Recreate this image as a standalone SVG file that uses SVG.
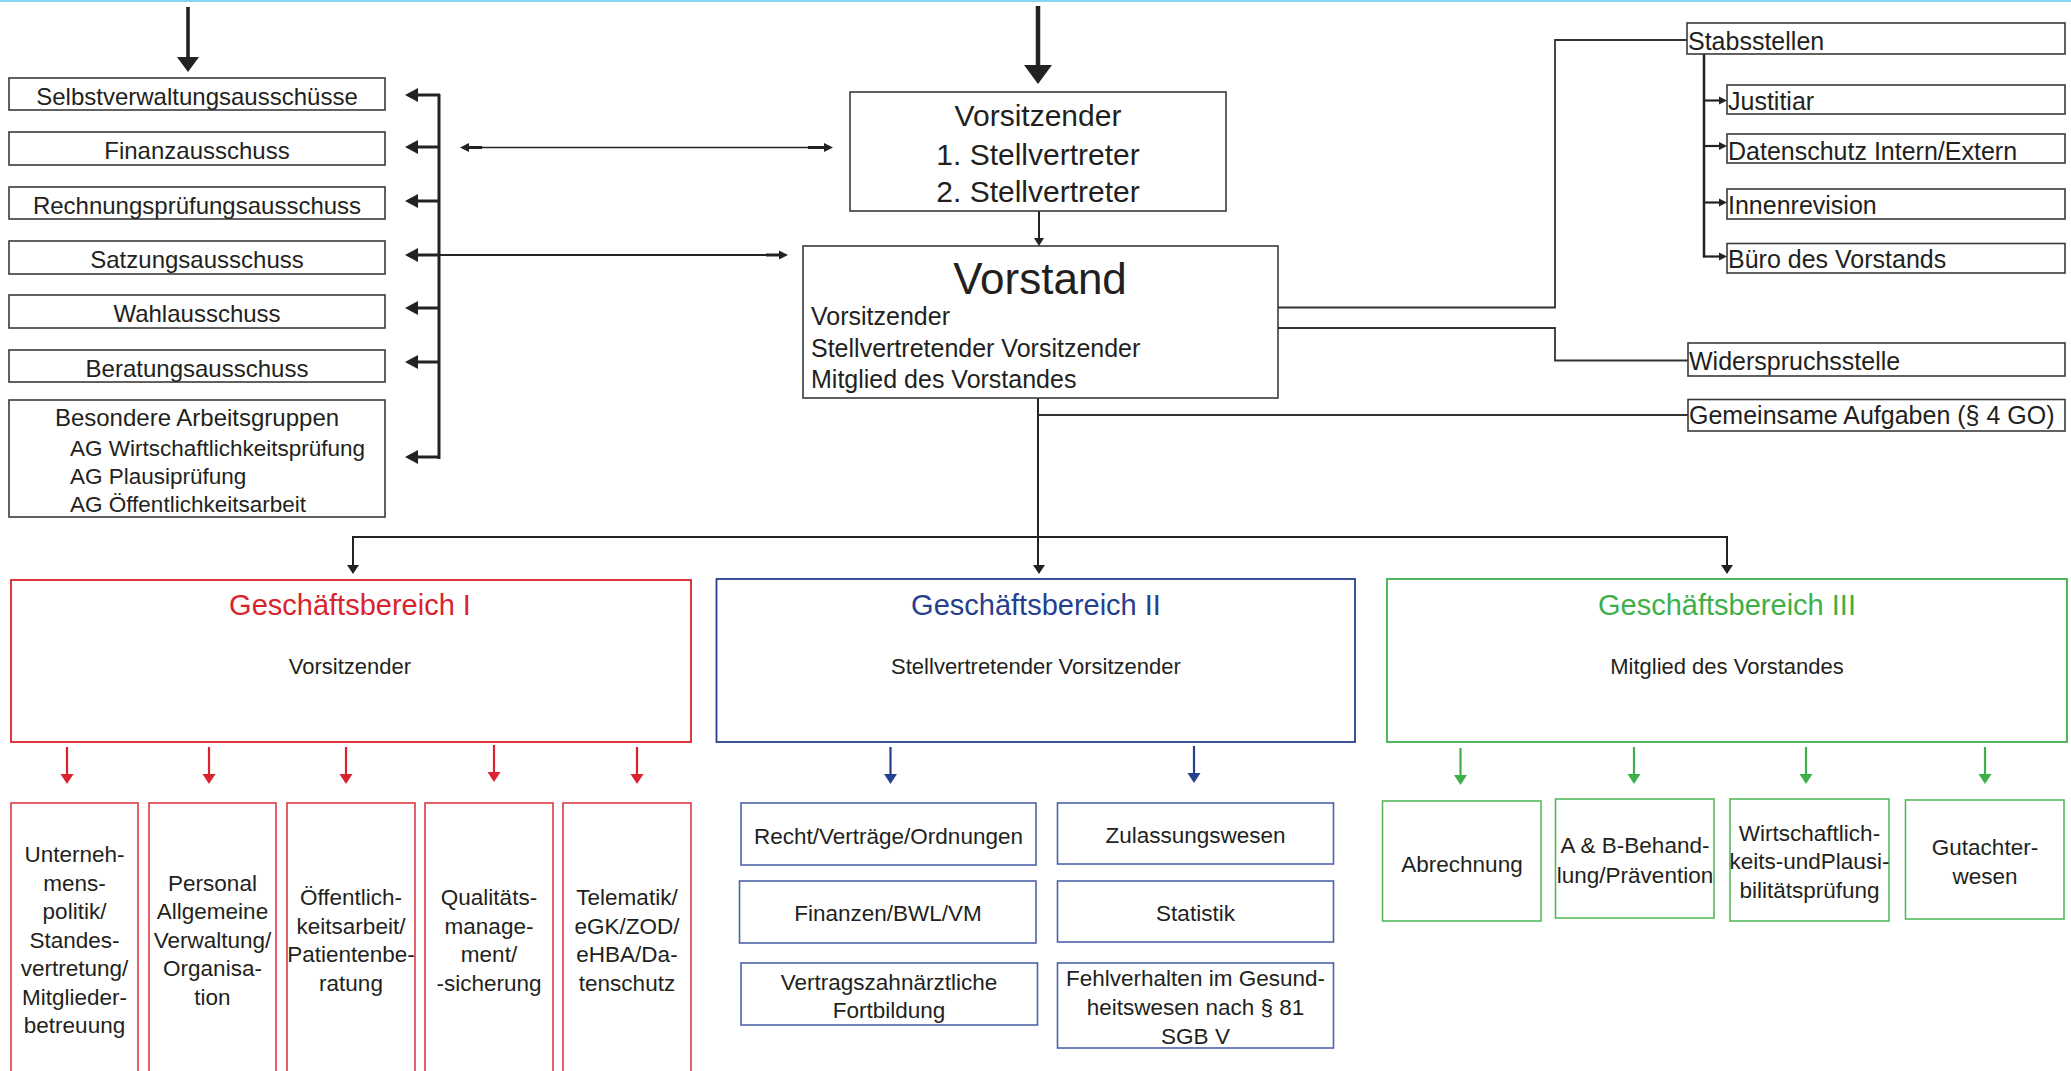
<svg xmlns="http://www.w3.org/2000/svg" width="2071" height="1071" viewBox="0 0 2071 1071">
<style>
text{font-family:"Liberation Sans",Arial,sans-serif;fill:#231f20}
.c{text-anchor:middle}
.box{fill:#fff;stroke:#3a3a3a;stroke-width:1.6}
.t24{font-size:24px}
.t25{font-size:25px}
.t22{font-size:22.5px}
.red{fill:#fff;stroke:#d9232e;stroke-width:1.8}
.blue{fill:#fff;stroke:#24408e;stroke-width:1.8}
.green{fill:#fff;stroke:#3db049;stroke-width:1.8}
.reds{fill:#fff;stroke:#dd3a43;stroke-width:1.6}
.blues{fill:#fff;stroke:#4e62a8;stroke-width:1.6}
.greens{fill:#fff;stroke:#55b95c;stroke-width:1.6}
.ln{fill:none;stroke:#222;stroke-width:2}
.lnt{fill:none;stroke:#333;stroke-width:1.8}
.hd{fill:#222}
</style>
<rect x="0" y="0" width="2071" height="1071" fill="#fff"/>
<rect x="0" y="0" width="2071" height="2" fill="#86d4ef"/>

<g id="connectors">
  <!-- top arrows -->
  <line x1="188" y1="7" x2="188" y2="59" stroke="#222" stroke-width="3.6"/>
  <polygon class="hd" points="177,57 199,57 188,72"/>
  <line x1="1038" y1="6" x2="1038" y2="67" stroke="#222" stroke-width="4.5"/>
  <polygon class="hd" points="1024,65 1052,65 1038,84"/>
  <!-- left bus -->
  <line x1="439" y1="94" x2="439" y2="459" stroke="#222" stroke-width="3"/>
  <g stroke="#222" stroke-width="3">
    <line x1="416" y1="95" x2="440" y2="95"/>
    <line x1="416" y1="147" x2="440" y2="147"/>
    <line x1="416" y1="201" x2="440" y2="201"/>
    <line x1="416" y1="255" x2="440" y2="255"/>
    <line x1="416" y1="308" x2="440" y2="308"/>
    <line x1="416" y1="362" x2="440" y2="362"/>
    <line x1="416" y1="457" x2="440" y2="457"/>
  </g>
  <polygon class="hd" points="405,95 418,88 418,102"/>
  <polygon class="hd" points="405,147 418,140 418,154"/>
  <polygon class="hd" points="405,201 418,194 418,208"/>
  <polygon class="hd" points="405,255 418,248 418,262"/>
  <polygon class="hd" points="405,308 418,301 418,315"/>
  <polygon class="hd" points="405,362 418,355 418,369"/>
  <polygon class="hd" points="405,457 418,450 418,464"/>
  <!-- Finanz double arrow -->
  <line x1="466" y1="147.5" x2="827" y2="147.5" stroke="#222" stroke-width="1.6"/>
  <line x1="466" y1="147.5" x2="482" y2="147.5" stroke="#222" stroke-width="3"/>
  <line x1="808" y1="147.5" x2="827" y2="147.5" stroke="#222" stroke-width="3"/>
  <polygon class="hd" points="460,147.5 469,143 469,152"/>
  <polygon class="hd" points="833,147.5 824,143 824,152"/>
  <!-- Satzung line -->
  <line x1="439" y1="255" x2="782" y2="255" stroke="#222" stroke-width="2"/>
  <line x1="766" y1="255" x2="782" y2="255" stroke="#222" stroke-width="3"/>
  <polygon class="hd" points="788,255 779,250.5 779,259.5"/>
  <!-- Vorsitz to Vorstand -->
  <line x1="1039" y1="211" x2="1039" y2="239" stroke="#222" stroke-width="2"/>
  <polygon class="hd" points="1034,238 1044,238 1039,246"/>
  <!-- right side -->
  <path class="lnt" d="M1278,307.5 H1555 V40 H1688"/>
  <path class="lnt" d="M1278,328 H1555 V360.5 H1688"/>
  <path class="lnt" d="M1038,415 H1688"/>
  <!-- Stabs sub bus -->
  <line x1="1704" y1="54" x2="1704" y2="257.5" stroke="#222" stroke-width="2.5"/>
  <g stroke="#222" stroke-width="2.2">
    <line x1="1703" y1="100.5" x2="1721" y2="100.5"/>
    <line x1="1703" y1="146" x2="1721" y2="146"/>
    <line x1="1703" y1="202.5" x2="1721" y2="202.5"/>
    <line x1="1703" y1="256.5" x2="1721" y2="256.5"/>
  </g>
  <polygon class="hd" points="1727,100.5 1719,96.5 1719,104.5"/>
  <polygon class="hd" points="1727,146 1719,142 1719,150"/>
  <polygon class="hd" points="1727,202.5 1719,198.5 1719,206.5"/>
  <polygon class="hd" points="1727,256.5 1719,252.5 1719,260.5"/>
  <!-- Vorstand down and GB bus -->
  <path class="ln" d="M1038,398 V567"/>
  <path class="ln" d="M353,567 V537 H1727 V567" stroke-width="2.5"/>
  <polygon class="hd" points="347,565 359,565 353,574"/>
  <polygon class="hd" points="1033,565 1045,565 1039,574"/>
  <polygon class="hd" points="1721,565 1733,565 1727,574"/>
  <!-- red arrows -->
  <g stroke="#d9232e" stroke-width="2.2">
    <line x1="67" y1="747" x2="67" y2="776"/>
    <line x1="209" y1="747" x2="209" y2="776"/>
    <line x1="346" y1="747" x2="346" y2="776"/>
    <line x1="494" y1="745" x2="494" y2="774"/>
    <line x1="637" y1="747" x2="637" y2="776"/>
  </g>
  <g fill="#d9232e">
    <polygon points="60.5,774 73.5,774 67,784"/>
    <polygon points="202.5,774 215.5,774 209,784"/>
    <polygon points="339.5,774 352.5,774 346,784"/>
    <polygon points="487.5,772 500.5,772 494,782"/>
    <polygon points="630.5,774 643.5,774 637,784"/>
  </g>
  <!-- blue arrows -->
  <g stroke="#24408e" stroke-width="2.2">
    <line x1="890.5" y1="747" x2="890.5" y2="776"/>
    <line x1="1194" y1="746" x2="1194" y2="775"/>
  </g>
  <g fill="#24408e">
    <polygon points="884,774 897,774 890.5,784"/>
    <polygon points="1187.5,773 1200.5,773 1194,783"/>
  </g>
  <!-- green arrows -->
  <g stroke="#3db049" stroke-width="2.2">
    <line x1="1460.5" y1="748" x2="1460.5" y2="777"/>
    <line x1="1634" y1="747" x2="1634" y2="776"/>
    <line x1="1806" y1="747" x2="1806" y2="776"/>
    <line x1="1985" y1="747" x2="1985" y2="776"/>
  </g>
  <g fill="#3db049">
    <polygon points="1454,775 1467,775 1460.5,785"/>
    <polygon points="1627.5,774 1640.5,774 1634,784"/>
    <polygon points="1799.5,774 1812.5,774 1806,784"/>
    <polygon points="1978.5,774 1991.5,774 1985,784"/>
  </g>
</g>

<!-- committees -->
<g id="selbstverwaltung"><rect class="box" x="9" y="78" width="376" height="32"/><text class="c t24" x="197" y="105">Selbstverwaltungsausschüsse</text></g>
<g id="finanzausschuss"><rect class="box" x="9" y="132" width="376" height="33"/><text class="c t24" x="197" y="159">Finanzausschuss</text></g>
<g id="rechnungspruefung"><rect class="box" x="9" y="187" width="376" height="32"/><text class="c t24" x="197" y="213.5">Rechnungsprüfungsausschuss</text></g>
<g id="satzungsausschuss"><rect class="box" x="9" y="241" width="376" height="33"/><text class="c t24" x="197" y="268">Satzungsausschuss</text></g>
<g id="wahlausschuss"><rect class="box" x="9" y="295" width="376" height="33"/><text class="c t24" x="197" y="322">Wahlausschuss</text></g>
<g id="beratungsausschuss"><rect class="box" x="9" y="350" width="376" height="32"/><text class="c t24" x="197" y="377">Beratungsausschuss</text></g>
<g id="arbeitsgruppen"><rect class="box" x="9" y="400" width="376" height="117"/>
  <text class="c t24" x="197" y="426">Besondere Arbeitsgruppen</text>
  <text class="t22" x="70" y="455.5">AG Wirtschaftlichkeitsprüfung</text>
  <text class="t22" x="70" y="484">AG Plausiprüfung</text>
  <text class="t22" x="70" y="512">AG Öffentlichkeitsarbeit</text>
</g>

<!-- Vorsitzender -->
<g id="vorsitz"><rect class="box" x="850" y="92" width="376" height="119"/>
  <text class="c" x="1038" y="126" font-size="30">Vorsitzender</text>
  <text class="c" x="1038" y="165" font-size="30">1. Stellvertreter</text>
  <text class="c" x="1038" y="202" font-size="30">2. Stellvertreter</text>
</g>
<g id="vorstand"><rect class="box" x="803" y="246" width="475" height="152"/>
  <text class="c" x="1040" y="294" font-size="44">Vorstand</text>
  <text class="t25" x="811" y="325">Vorsitzender</text>
  <text class="t25" x="811" y="357">Stellvertretender Vorsitzender</text>
  <text class="t25" x="811" y="388">Mitglied des Vorstandes</text>
</g>

<!-- right column -->
<g id="stabsstellen"><rect class="box" x="1687" y="23" width="378" height="31"/><text class="t25" x="1688" y="50">Stabsstellen</text></g>
<g id="justitiar"><rect class="box" x="1727" y="85" width="338" height="29"/><text class="t25" x="1728" y="109.5">Justitiar</text></g>
<g id="datenschutz"><rect class="box" x="1727" y="134" width="338" height="29"/><text class="t25" x="1728" y="159.5">Datenschutz Intern/Extern</text></g>
<g id="innenrevision"><rect class="box" x="1727" y="189" width="338" height="30"/><text class="t25" x="1728" y="214">Innenrevision</text></g>
<g id="buero"><rect class="box" x="1727" y="243.5" width="338" height="29.5"/><text class="t25" x="1728" y="268">Büro des Vorstands</text></g>
<g id="widerspruch"><rect class="box" x="1688" y="343" width="377" height="33"/><text class="t25" x="1689" y="370">Widerspruchsstelle</text></g>
<g id="gemeinsame"><rect class="box" x="1688" y="399.5" width="377" height="31.5"/><text class="t25" x="1689" y="424">Gemeinsame Aufgaben (§ 4 GO)</text></g>

<!-- Geschäftsbereiche -->
<g id="gb1"><rect class="red" x="11" y="580" width="680" height="162"/>
  <text class="c" x="350" y="615" font-size="29" style="fill:#d9232e">Geschäftsbereich I</text>
  <text class="c" x="350" y="674" font-size="22">Vorsitzender</text>
</g>
<g id="gb2"><rect class="blue" x="716.5" y="579" width="638.5" height="163"/>
  <text class="c" x="1036" y="615" font-size="29" style="fill:#24408e">Geschäftsbereich II</text>
  <text class="c" x="1036" y="674" font-size="22">Stellvertretender Vorsitzender</text>
</g>
<g id="gb3"><rect class="green" x="1387" y="579" width="680" height="163"/>
  <text class="c" x="1727" y="615" font-size="29" style="fill:#3db049">Geschäftsbereich III</text>
  <text class="c" x="1727" y="674" font-size="22">Mitglied des Vorstandes</text>
</g>

<!-- GB I sub -->
<g id="gb1-unternehmen"><rect class="reds" x="11" y="803" width="127" height="290"/>
  <text class="c t22" x="74.5"><tspan x="74.5" y="862">Unterneh-</tspan><tspan x="74.5" y="890.5">mens-</tspan><tspan x="74.5" y="919">politik/</tspan><tspan x="74.5" y="947.5">Standes-</tspan><tspan x="74.5" y="976">vertretung/</tspan><tspan x="74.5" y="1004.5">Mitglieder-</tspan><tspan x="74.5" y="1033">betreuung</tspan></text>
</g>
<g id="gb1-personal"><rect class="reds" x="149" y="803" width="127" height="290"/>
  <text class="c t22" x="212.5"><tspan x="212.5" y="890.5">Personal</tspan><tspan x="212.5" y="919">Allgemeine</tspan><tspan x="212.5" y="947.5">Verwaltung/</tspan><tspan x="212.5" y="976">Organisa-</tspan><tspan x="212.5" y="1004.5">tion</tspan></text>
</g>
<g id="gb1-oeffentlichkeit"><rect class="reds" x="287" y="803" width="128" height="290"/>
  <text class="c t22" x="351"><tspan x="351" y="905">Öffentlich-</tspan><tspan x="351" y="933.5">keitsarbeit/</tspan><tspan x="351" y="962">Patientenbe-</tspan><tspan x="351" y="990.5">ratung</tspan></text>
</g>
<g id="gb1-qualitaet"><rect class="reds" x="425" y="803" width="128" height="290"/>
  <text class="c t22" x="489"><tspan x="489" y="905">Qualitäts-</tspan><tspan x="489" y="933.5">manage-</tspan><tspan x="489" y="962">ment/</tspan><tspan x="489" y="990.5">-sicherung</tspan></text>
</g>
<g id="gb1-telematik"><rect class="reds" x="563" y="803" width="128" height="290"/>
  <text class="c t22" x="627"><tspan x="627" y="905">Telematik/</tspan><tspan x="627" y="933.5">eGK/ZOD/</tspan><tspan x="627" y="962">eHBA/Da-</tspan><tspan x="627" y="990.5">tenschutz</tspan></text>
</g>

<!-- GB II sub -->
<g id="gb2-recht"><rect class="blues" x="741" y="803" width="295" height="62"/><text class="c t22" x="888.5" y="844">Recht/Verträge/Ordnungen</text></g>
<g id="gb2-finanzen"><rect class="blues" x="739.5" y="881" width="296.5" height="62"/><text class="c t22" x="888" y="921">Finanzen/BWL/VM</text></g>
<g id="gb2-fortbildung"><rect class="blues" x="741" y="963" width="296.5" height="62"/>
  <text class="c t22" x="889"><tspan x="889" y="990">Vertragszahnärztliche</tspan><tspan x="889" y="1017.5">Fortbildung</tspan></text>
</g>
<g id="gb2-zulassung"><rect class="blues" x="1057.5" y="803" width="276" height="61"/><text class="c t22" x="1195.5" y="843">Zulassungswesen</text></g>
<g id="gb2-statistik"><rect class="blues" x="1057.5" y="881" width="276" height="61"/><text class="c t22" x="1195.5" y="921">Statistik</text></g>
<g id="gb2-fehlverhalten"><rect class="blues" x="1057.5" y="963" width="276" height="85"/>
  <text class="c t22" x="1195.5"><tspan x="1195.5" y="986">Fehlverhalten im Gesund-</tspan><tspan x="1195.5" y="1015">heitswesen nach § 81</tspan><tspan x="1195.5" y="1044">SGB V</tspan></text>
</g>

<!-- GB III sub -->
<g id="gb3-abrechnung"><rect class="greens" x="1382.5" y="801" width="158.5" height="120"/><text class="c t22" x="1462" y="872">Abrechnung</text></g>
<g id="gb3-behandlung"><rect class="greens" x="1555.5" y="799" width="158.5" height="119"/>
  <text class="c t22" x="1635"><tspan x="1635" y="853">A &amp; B-Behand-</tspan><tspan x="1635" y="882.5">lung/Prävention</tspan></text>
</g>
<g id="gb3-wirtschaftlichkeit"><rect class="greens" x="1730" y="799" width="159" height="122"/>
  <text class="c t22" x="1809.5"><tspan x="1809.5" y="840.5">Wirtschaftlich-</tspan><tspan x="1809.5" y="869">keits-undPlausi-</tspan><tspan x="1809.5" y="898">bilitätsprüfung</tspan></text>
</g>
<g id="gb3-gutachter"><rect class="greens" x="1905.5" y="800" width="158.5" height="119"/>
  <text class="c t22" x="1985"><tspan x="1985" y="855">Gutachter-</tspan><tspan x="1985" y="883.5">wesen</tspan></text>
</g>
</svg>
